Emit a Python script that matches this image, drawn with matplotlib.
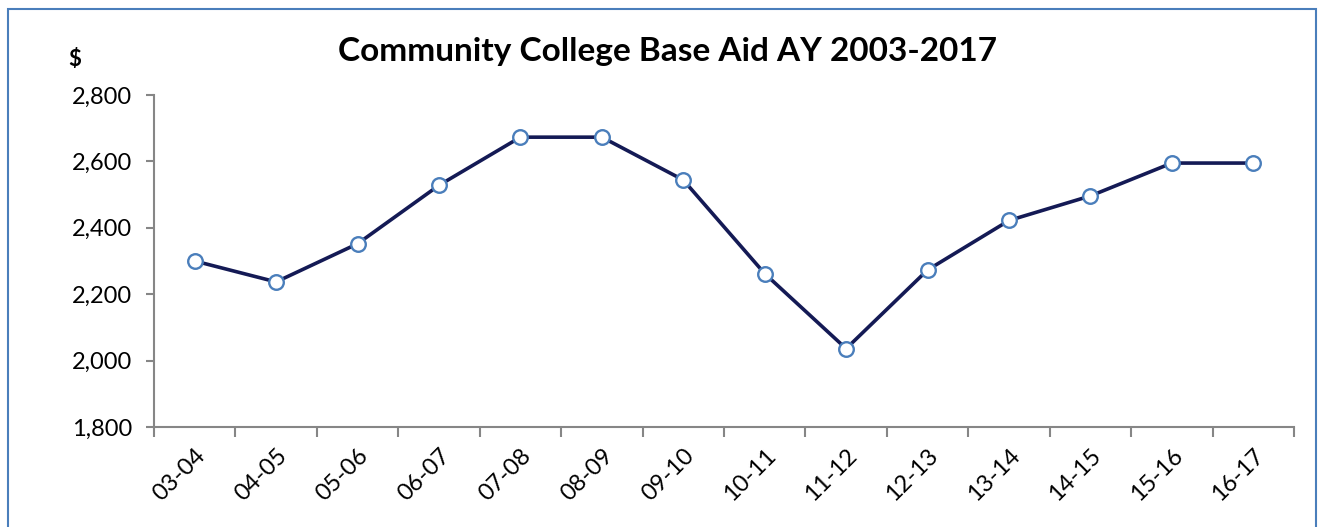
import matplotlib.pyplot as plt
from matplotlib.patches import Rectangle

# Data
years = ['03-04', '04-05', '05-06', '06-07', '07-08', '08-09', '09-10',
         '10-11', '11-12', '12-13', '13-14', '14-15', '15-16', '16-17']
base_aid = [2300, 2237, 2352, 2528, 2673, 2673, 2544,
            2262, 2036, 2273, 2422, 2496, 2595, 2595]

plt.rcParams['font.family'] = ['Lato', 'DejaVu Sans']

fig = plt.figure(figsize=(13.27, 5.27), dpi=100)
ax = fig.add_axes([154 / 1327, 1 - 427 / 527, (1294 - 154) / 1327, (427 - 95) / 527])

x = list(range(len(years)))
ax.plot(x, base_aid, color='#141a55', linewidth=2.6, marker='o', markersize=10.5,
        markerfacecolor='white', markeredgecolor='#4a7ebb', markeredgewidth=1.7,
        solid_joinstyle='round')

ax.set_xlim(-0.5, len(years) - 0.5)
ax.set_ylim(1800, 2800)
ax.set_yticks(range(1800, 2801, 200))
ax.set_yticklabels([f'{v:,}' for v in range(1800, 2801, 200)], fontsize=17)

# category labels in the middle, tick marks on the boundaries
ax.set_xticks(x)
ax.set_xticklabels(years, rotation=45, ha='right', va='top', fontsize=17,
                   rotation_mode='anchor')
ax.tick_params(axis='x', which='major', length=0, pad=13)
ax.set_xticks([i - 0.5 for i in range(len(years) + 1)], minor=True)
ax.tick_params(axis='x', which='minor', length=7, width=1.5, color='#868686')
ax.tick_params(axis='y', length=6, width=1.5, color='#868686', pad=10)

for side in ['top', 'right']:
    ax.spines[side].set_visible(False)
for side in ['left', 'bottom']:
    ax.spines[side].set_color('#868686')
    ax.spines[side].set_linewidth(1.5)

fig.text(667 / 1327, 1 - 52 / 527, 'Community College Base Aid AY 2003-2017',
         ha='center', va='center', fontsize=24, fontweight='bold')
fig.text(75 / 1327, 1 - 60 / 527, '$', ha='center', va='center',
         fontsize=16, fontweight='bold')

# chart border
fig.patches.append(Rectangle((8 / 1327, -0.05), (1316 - 8) / 1327, 1.05 - 9 / 527,
                             transform=fig.transFigure, fill=False,
                             edgecolor='#4a7ebb', linewidth=1.5))

fig.savefig('out.png', dpi=100)
